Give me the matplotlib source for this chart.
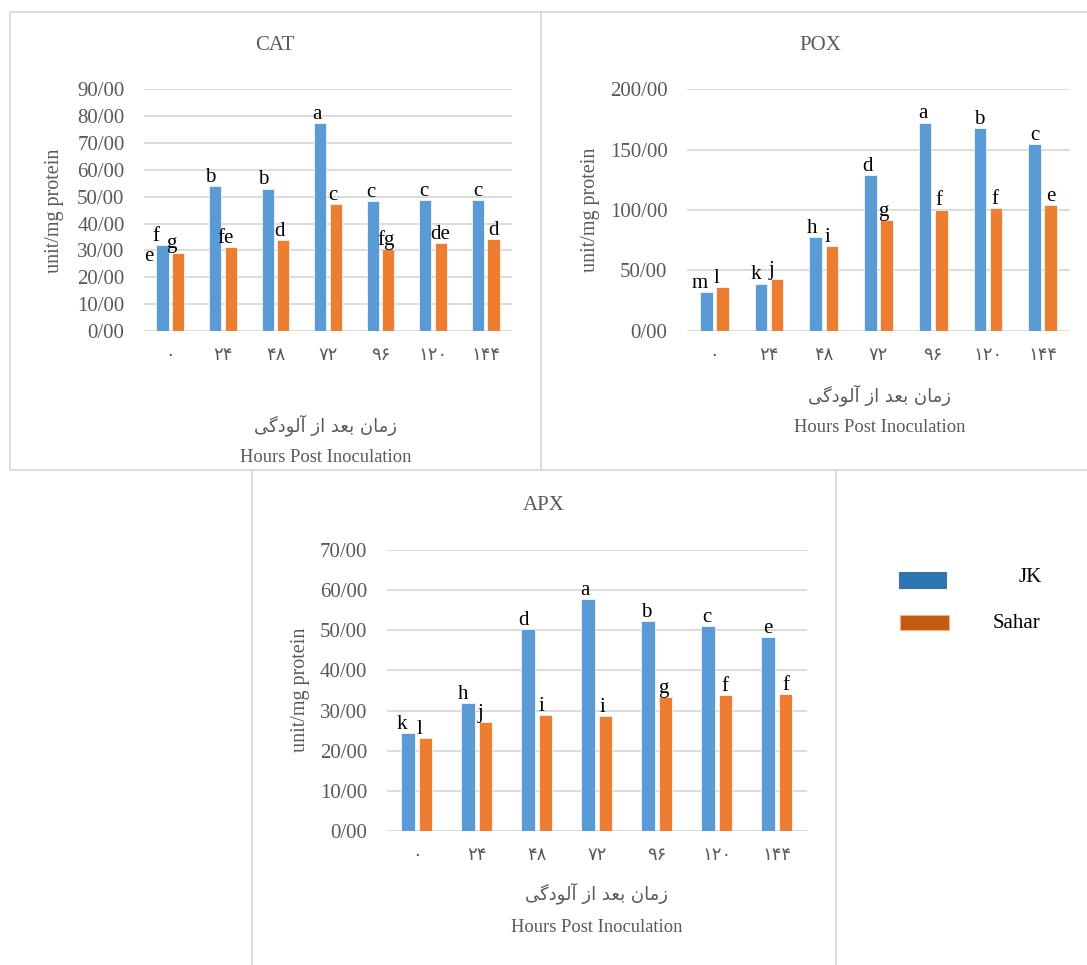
import matplotlib
matplotlib.use("Agg")
import matplotlib.pyplot as plt
from matplotlib.lines import Line2D
from matplotlib.patches import Rectangle
import numpy as np

# ---- data ----
hours = ["\u06f0", "\u06f2\u06f4", "\u06f4\u06f8", "\u06f7\u06f2",
         "\u06f9\u06f6", "\u06f1\u06f2\u06f0", "\u06f1\u06f4\u06f4"]
series = ["JK", "Sahar"]

cat_jk = [32.0, 54.0, 53.0, 77.3, 48.3, 48.8, 48.8]
cat_sahar = [29.2, 31.4, 33.9, 47.2, 30.5, 32.8, 34.3]
cat_jk_lab = ["f", "b", "b", "a", "c", "c", "c"]
cat_sahar_lab = ["g", "fe", "d", "c", "fg", "de", "d"]

pox_jk = [32.0, 39.0, 77.9, 129.0, 172.4, 167.7, 154.7]
pox_sahar = [36.2, 42.8, 70.4, 91.4, 100.3, 101.4, 104.1]
pox_jk_lab = ["m", "k", "h", "d", "a", "b", "c"]
pox_sahar_lab = ["l", "j", "i", "g", "f", "f", "e"]

apx_jk = [24.3, 31.8, 50.4, 57.8, 52.2, 51.0, 48.3]
apx_sahar = [23.1, 27.1, 28.8, 28.7, 33.3, 33.9, 34.2]
apx_jk_lab = ["k", "h", "d", "a", "b", "c", "e"]
apx_sahar_lab = ["l", "j", "i", "i", "g", "f", "f"]

# "زمان بعد از آلودگی" written in shaped presentation forms, visual order
fa_xlabel = ("\ufbfd\ufb94\ufea9\ufeee\ufedf\ufe81 \ufeaf\ufe8d "
             "\ufeaa\ufecc\ufe91 \ufee5\ufe8e\ufee3\ufeaf")
en_xlabel = "Hours Post Inoculation"
ylabel = "unit/mg protein"

BLUE = "#5B9BD5"
ORANGE = "#ED7D31"
GRID = "#D9D9D9"
GREY = "#595959"
SERIF = "Liberation Serif"

W, H = 1087, 965
fig = plt.figure(figsize=(W / 100, H / 100), dpi=100)


def fx(x):
    return x / W


def fy(y):
    return 1 - y / H


def box(x0, y0, x1, y1):
    return [fx(x0), fy(y1), fx(x1) - fx(x0), fy(y0) - fy(y1)]


def hline(x0, x1, y):
    fig.add_artist(Line2D([fx(x0), fx(x1)], [fy(y), fy(y)], color=GRID, lw=1.3))


def vline(x, y0, y1):
    fig.add_artist(Line2D([fx(x), fx(x)], [fy(y0), fy(y1)], color=GRID, lw=1.3))


def panel(rect, jk, sahar, jk_lab, sahar_lab, ymax, ystep):
    ax = fig.add_axes(rect)
    x = np.arange(len(hours))
    w, gap = 0.23, 0.065
    off = (w + gap) / 2
    ax.bar(x - off, jk, w, color=BLUE, edgecolor="white", linewidth=0.5, zorder=3)
    ax.bar(x + off, sahar, w, color=ORANGE, edgecolor="white", linewidth=0.5, zorder=3)
    for i in range(len(x)):
        dx = -0.75 * (len(x) - 1 - i)
        for xx, v, lab in ((x[i] - off, jk[i], jk_lab[i]),
                           (x[i] + off, sahar[i], sahar_lab[i])):
            ax.annotate(lab, (xx, v), xytext=(dx, 3), textcoords="offset points",
                        ha="center", va="baseline", fontsize=15,
                        family=SERIF, color="black", zorder=4)
    ax.set_xlim(-0.5, len(x) - 0.5)
    ax.set_ylim(0, ymax)
    yt = np.arange(0, ymax + ystep / 2, ystep)
    ax.set_yticks(yt)
    ax.set_yticklabels(["%d/00" % t for t in yt], family=SERIF, fontsize=15,
                       color=GREY)
    ax.set_xticks(x)
    ax.set_xticklabels(hours, family="DejaVu Sans", fontsize=13, color=GREY)
    ax.tick_params(axis="y", length=0, pad=14)
    ax.tick_params(axis="x", length=0, pad=11)
    ax.grid(axis="y", color=GRID, lw=1.3, zorder=0)
    for s in ax.spines.values():
        s.set_visible(False)
    return ax


ax_cat = panel(box(144, 89.3, 512, 331), cat_jk, cat_sahar,
               cat_jk_lab, cat_sahar_lab, 90, 10)
# extra letter left of the first JK bar
ax_cat.annotate("e", (0 - 0.1475, 26), xytext=(-10, 0), textcoords="offset points",
                ha="center", va="baseline", fontsize=15, family=SERIF, color="black")
ax_pox = panel(box(687, 89.3, 1070, 330.7), pox_jk, pox_sahar,
               pox_jk_lab, pox_sahar_lab, 200, 50)
ax_apx = panel(box(386.7, 550, 806.7, 831), apx_jk, apx_sahar,
               apx_jk_lab, apx_sahar_lab, 70, 10)

# titles, axis labels
for title, tx, ty in (("CAT", 275, 45), ("POX", 820, 45), ("APX", 544, 506)):
    fig.text(fx(tx), fy(ty), title, ha="center", va="center", fontsize=15,
             family=SERIF, color=GREY)

for lx, ly in ((55, 211), (590, 210), (300, 690)):
    fig.text(fx(lx), fy(ly), ylabel, rotation=90, ha="center", va="center",
             fontsize=14.5, family=SERIF, color=GREY)

for cx, y_fa, y_en in ((326, 425, 457), (880, 395, 427), (597, 893, 928)):
    fig.text(fx(cx), fy(y_fa), fa_xlabel, ha="center", va="center", fontsize=13,
             family="DejaVu Sans", color=GREY)
    fig.text(fx(cx), fy(y_en), en_xlabel, ha="center", va="center", fontsize=13.3,
             family=SERIF, color=GREY)

# legend (drawn as a separate block like in the source figure)
fig.add_artist(Rectangle((fx(899), fy(588)), fx(47), fy(572) - fy(588),
                         facecolor="#2E75B6", edgecolor="#41719C", lw=0.8))
fig.add_artist(Rectangle((fx(900), fy(630)), fx(49), fy(615) - fy(630),
                         facecolor="#C55A11", edgecolor="#F4B183", lw=0.8))
fig.text(fx(1030), fy(577), series[0], ha="center", va="center", fontsize=15,
         family=SERIF, color="black")
fig.text(fx(1017), fy(623), series[1], ha="center", va="center", fontsize=15,
         family=SERIF, color="black")

# panel borders
hline(10, 541, 12)
hline(541, W, 12)
hline(10, 541, 470)
hline(541, W, 470)
vline(10, 12, 470)
vline(541, 12, 470)
vline(252, 470, H)
vline(836, 470, H)

fig.savefig("out.png", dpi=100)
